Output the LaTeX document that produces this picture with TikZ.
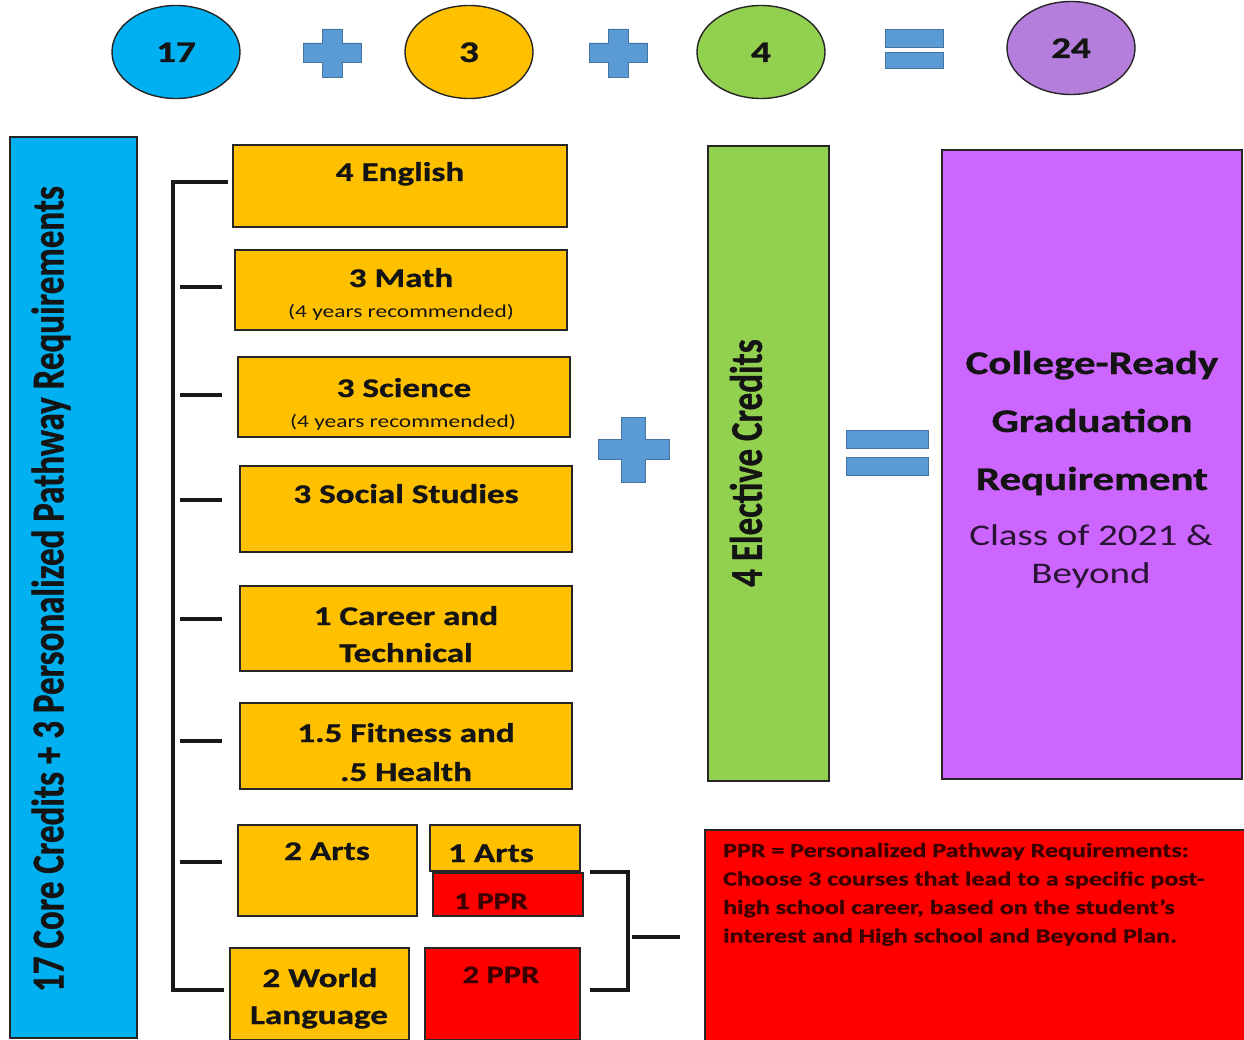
\documentclass[tikz,border=0pt]{standalone}
\usepackage{fontspec}
\setmainfont{Carlito}[BoldFeatures={FakeBold=0.8}]
\usepackage{graphicx}
\newcommand{\sxw}[1]{\scalebox{1.3}[1]{#1}}
\newcommand{\syw}[1]{\scalebox{1}[1.3]{#1}}
\definecolor{cblue}{HTML}{00B0F0}
\definecolor{corange}{HTML}{FFC000}
\definecolor{cgreen}{HTML}{92D050}
\definecolor{cpurple}{HTML}{CC66FF}
\definecolor{cpurplec}{HTML}{B57EDC}
\definecolor{cred}{HTML}{FF0000}
\definecolor{csign}{HTML}{5B9BD5}
\definecolor{cedge}{HTML}{262626}
\definecolor{ctext}{HTML}{141414}
\definecolor{credtext}{HTML}{3A0000}
\tikzset{
  boxbase/.style={rectangle, draw=cedge, line width=2pt, inner sep=0pt, outer sep=0pt},
  obox/.style={boxbase, fill=corange},
  rbox/.style={boxbase, fill=cred},
  circ/.style={ellipse, draw=cedge, line width=1.4pt, minimum width=128pt, minimum height=93pt, inner sep=0pt},
  ttl/.style={anchor=base, inner sep=0pt, text=ctext, font=\fontsize{27pt}{37pt}\selectfont\bfseries},
  sub/.style={anchor=base, inner sep=0pt, text=ctext, font=\fontsize{18pt}{22pt}\selectfont},
  num/.style={anchor=base, inner sep=0pt, text=ctext, font=\fontsize{30pt}{36pt}\selectfont\bfseries},
  brk/.style={line width=3.4pt, draw=black!90},
  sign/.style={fill=csign, draw=csign!75!black, line width=0.8pt},
}
\usetikzlibrary{shapes.geometric}
\begin{document}
\begin{tikzpicture}[x=1pt,y=-1pt]
\useasboundingbox (0,0) rectangle (1244,1040);
\fill[white] (0,0) rectangle (1244,1040);

% top equation
\node[circ, fill=cblue] (c17) at (176,52) {};
\node[num] (t17) at (176,62) {\sxw{17}};
\node[circ, fill=corange] (c3) at (469,52) {};
\node[num] (t3) at (469,62) {\sxw{3}};
\node[circ, fill=cgreen] (c4) at (761,52) {};
\node[num] (t4) at (761,62) {\sxw{4}};
\node[circ, fill=cpurplec] (c24) at (1071,48) {};
\node[num] (t24) at (1071,58) {\sxw{24}};

% plus signs and equals (top)
\path[sign] (322,29) -- (342,29) -- (342,43) -- (361,43) -- (361,62) -- (342,62) -- (342,77) -- (322,77) -- (322,62) -- (303,62) -- (303,43) -- (322,43) -- cycle;
\path[sign] (608,29) -- (628,29) -- (628,43) -- (647,43) -- (647,62) -- (628,62) -- (628,77) -- (608,77) -- (608,62) -- (589,62) -- (589,43) -- (608,43) -- cycle;
\path[sign] (885,29) rectangle (943,47);
\path[sign] (885,52) rectangle (943,68);

% blue column
\node[boxbase, fill=cblue, minimum width=127pt, minimum height=901pt] (core) at (73.5,587.5) {};
\node[rotate=90, inner sep=0pt, text=ctext, font=\fontsize{35pt}{40pt}\selectfont\bfseries] (coret) at (51,589) {\syw{17 Core Credits + 3 Personalized Pathway Requirements}};

% orange boxes
\node[obox, minimum width=334pt, minimum height=82pt] (eng) at (400,186) {};
\node[ttl] (engt) at (400,181) {\sxw{4 English}};

\node[obox, minimum width=332pt, minimum height=80pt] (math) at (401,290) {};
\node[ttl] (matht) at (401,287) {\sxw{3 Math}};
\node[sub] (maths) at (401,318) {\sxw{(4 years recommended)}};

\node[obox, minimum width=332pt, minimum height=80pt] (sci) at (404,397) {};
\node[ttl] (scit) at (404,397) {\sxw{3 Science}};
\node[sub] (scis) at (403,427) {\sxw{(4 years recommended)}};

\node[obox, minimum width=332pt, minimum height=86pt] (soc) at (406,509) {};
\node[ttl] (soct) at (406,503) {\sxw{3 Social Studies}};

\node[obox, minimum width=332pt, minimum height=85pt] (car) at (406,628.5) {};
\node[ttl] (cart1) at (406,625) {\sxw{1 Career and}};
\node[ttl] (cart2) at (406,662) {\sxw{Technical}};

\node[obox, minimum width=332pt, minimum height=86pt] (fit) at (406,746) {};
\node[ttl] (fitt1) at (406,742) {\sxw{1.5 Fitness and}};
\node[ttl] (fitt2) at (406,781) {\sxw{.5 Health}};

\node[obox, minimum width=179pt, minimum height=91pt] (arts2) at (327.5,870.5) {};
\node[ttl] (arts2t) at (327,860) {\sxw{2 Arts}};

\node[obox, minimum width=150pt, minimum height=46pt] (arts1) at (505,848) {};
\node[ttl] (arts1t) at (491,862) {\sxw{1 Arts}};

\node[rbox, minimum width=150pt, minimum height=43pt] (ppr1) at (508,894.5) {};
\node[ttl, font=\fontsize{24pt}{30pt}\selectfont\bfseries, text=credtext] (ppr1t) at (491,909) {\sxw{1 PPR}};

\node[obox, minimum width=179pt, minimum height=92pt] (wl) at (319.5,994) {};
\node[ttl] (wlt1) at (320,987) {\sxw{2 World}};
\node[ttl] (wlt2) at (319,1024) {\sxw{Language}};

\node[rbox, minimum width=155pt, minimum height=92pt] (ppr2) at (502.5,994) {};
\node[ttl, font=\fontsize{25pt}{30pt}\selectfont\bfseries, text=credtext] (ppr2t) at (501,983) {\sxw{2 PPR}};

% left bracket
\coordinate (lt0) at (228,182);
\coordinate (lt1) at (173,182);
\coordinate (lb1) at (173,990);
\coordinate (lb0) at (224,990);
\draw[brk] (lt0) -- (lt1) -- (lb1) -- (lb0);
\foreach \yy/\nm in {287/a,395/b,500/c,619/d,741/e,862/f}{
  \coordinate (tk\nm s) at (180,\yy);
  \coordinate (tk\nm e) at (222,\yy);
  \draw[brk] (tk\nm s) -- (tk\nm e);
}

% right bracket
\coordinate (rb0) at (590,872);
\coordinate (rb1) at (628,872);
\coordinate (rb2) at (628,990);
\coordinate (rb3) at (590,990);
\draw[brk] (rb0) -- (rb1) -- (rb2) -- (rb3);
\coordinate (rm0) at (632,937);
\coordinate (rm1) at (680,937);
\draw[brk] (rm0) -- (rm1);

% big plus
\path[sign] (621,417) -- (645,417) -- (645,439) -- (669,439) -- (669,459) -- (645,459) -- (645,482) -- (621,482) -- (621,459) -- (598,459) -- (598,439) -- (621,439) -- cycle;

% green column
\node[boxbase, fill=cgreen, minimum width=121pt, minimum height=635pt] (elec) at (768.5,463.5) {};
\node[rotate=90, inner sep=0pt, text=ctext, font=\fontsize{35pt}{40pt}\selectfont\bfseries] (elect) at (746,463) {\syw{4 Elective Credits}};

% big equals
\path[sign] (846,430) rectangle (928,448);
\path[sign] (846,457) rectangle (928,475);

% purple box
\node[boxbase, fill=cpurple, minimum width=300pt, minimum height=629pt] (grad) at (1092,464.5) {};
\node[ttl, font=\fontsize{33pt}{40pt}\selectfont\bfseries] (gradt1) at (1092,374) {\sxw{College-Ready}};
\node[ttl, font=\fontsize{33pt}{40pt}\selectfont\bfseries] (gradt2) at (1092,432) {\sxw{Graduation}};
\node[ttl, font=\fontsize{33pt}{40pt}\selectfont\bfseries] (gradt3) at (1092,490) {\sxw{Requirement}};
\node[sub, font=\fontsize{30pt}{36pt}\selectfont, text=black!80!cpurple] (gradt4) at (1091,545) {\sxw{Class of 2021 \&}};
\node[sub, font=\fontsize{30pt}{36pt}\selectfont, text=black!80!cpurple] (gradt5) at (1091,583) {\sxw{Beyond}};

% red note box
\node[rbox, minimum width=541pt, minimum height=212pt] (note) at (975.5,936) {};
\node[anchor=base west, inner sep=0pt, text=credtext, font=\fontsize{20pt}{28.5pt}\selectfont\bfseries] (notet) at (723,857) {\sxw{\begin{tabular}[t]{@{}l@{}}PPR = Personalized Pathway Requirements:\\Choose 3 courses that lead to a specific post-\\high school career, based on the student’s\\interest and High school and Beyond Plan.\end{tabular}}};
\end{tikzpicture}
\end{document}
